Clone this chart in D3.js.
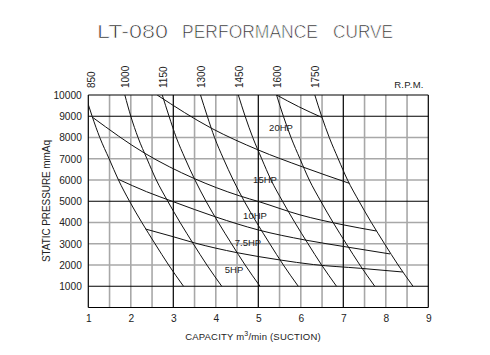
<!DOCTYPE html>
<html><head><meta charset="utf-8">
<script src="https://cdn.jsdelivr.net/npm/d3@7"></script>
<style>
body{margin:0;background:#fff;}
svg{display:block;}
text{font-family:"Liberation Sans",Arial,sans-serif;}
</style></head>
<body><svg id="c" width="490" height="355"></svg>
<script>
// ---- data ----
const titleWords = ["LT-080","PERFORMANCE","CURVE"];
const xTicks = [1,2,3,4,5,6,7,8,9];
const yTicks = [1000,2000,3000,4000,5000,6000,7000,8000,9000,10000];
const pLevels = [10000,9000,8000,7000,6000,5000,4000,3000,2000,1000];
const rpmNames = ["850","1000","1150","1300","1450","1600","1750"];
// capacity (m3/min) of each rpm line at the pressure levels above
const rpm850  = [0.93,1.09,1.27,1.49,1.71,1.97,2.26,2.57,2.89,3.24];
const rpm1000 = [1.86,2.00,2.17,2.38,2.60,2.87,3.16,3.47,3.79,4.14];
const rpm1150 = [2.74,2.90,3.07,3.28,3.51,3.77,4.06,4.37,4.69,5.04];
const rpm1300 = [3.64,3.80,3.97,4.18,4.41,4.67,4.96,5.27,5.59,5.94];
const rpm1450 = [4.53,4.69,4.87,5.08,5.30,5.57,5.86,6.17,6.49,6.84];
const rpm1600 = [5.43,5.59,5.77,5.98,6.20,6.47,6.76,7.07,7.39,7.74];
const rpm1750 = [6.33,6.49,6.67,6.88,7.10,7.37,7.66,7.97,8.29,8.64];
const rpmSeries = [rpm850,rpm1000,rpm1150,rpm1300,rpm1450,rpm1600,rpm1750];
// horsepower curves: [capacity, pressure]
const hpNames = ["20HP","15HP","10HP","7.5HP","5HP"];
const hp20  = [[5.43,10000],[5.95,9450],[6.49,8950]];
const hp15  = [[2.62,10000],[3.90,8433],[5.00,7412],[6.05,6610],[7.14,5845]];
const hp10  = [[1.10,8950],[2.33,7256],[3.48,6080],[4.55,5260],[5.04,4965],[5.98,4360],[7.00,3890],[7.78,3600]];
const hp75  = [[1.71,6030],[2.37,5450],[3.00,4979],[4.00,4260],[5.00,3650],[6.10,3176],[7.04,2861],[8.10,2520]];
const hp5   = [[2.35,3690],[3.00,3330],[3.50,3040],[4.50,2580],[5.50,2240],[6.30,2020],[7.40,1845],[8.40,1670]];
const hpSeries = [hp20,hp15,hp10,hp75,hp5];
const hpLabelPos = [[281,131],[265,183],[255,219],[248,246],[234,273]];

// ---- chart ----
const svg = d3.select("#c");
const x = d3.scaleLinear().domain([1,9]).range([88.3,428.3]);
const y = d3.scaleLinear().domain([0,10000]).range([307.5,95]);

// grid
const gx = d3.range(1,9.01,0.5), gy = d3.range(0,10001,1000);
const isMajorX = v => Math.abs(v%2-1)<1e-6;
const isMajorY = v => v===0||v===10000||v===1000||v===5000||v===9000;
const grid = svg.append("g");
grid.selectAll("line.vg").data(gx.filter(v=>!isMajorX(v))).join("line")
  .attr("x1",d=>x(d)).attr("x2",d=>x(d)).attr("y1",y(0)).attr("y2",y(10000))
  .attr("stroke","#a8a8a8").attr("stroke-width",1.6);
grid.selectAll("line.hg").data(gy.filter(v=>!isMajorY(v))).join("line")
  .attr("y1",d=>y(d)).attr("y2",d=>y(d)).attr("x1",x(1)).attr("x2",x(9))
  .attr("stroke","#a8a8a8").attr("stroke-width",1.6);
grid.selectAll("line.vm").data(gx.filter(isMajorX)).join("line")
  .attr("x1",d=>x(d)).attr("x2",d=>x(d)).attr("y1",y(0)).attr("y2",y(10000))
  .attr("stroke","#000").attr("stroke-width",1.2);
grid.selectAll("line.hm").data(gy.filter(isMajorY)).join("line")
  .attr("y1",d=>y(d)).attr("y2",d=>y(d)).attr("x1",x(1)).attr("x2",x(9))
  .attr("stroke","#000").attr("stroke-width",1.2);

// clip
svg.append("clipPath").attr("id","plot").append("rect")
  .attr("x",x(1)).attr("y",y(10000)).attr("width",x(9)-x(1)).attr("height",y(0)-y(10000));

const line = d3.line().x(d=>x(d[0])).y(d=>y(d[1])).curve(d3.curveMonotoneX);
const curves = svg.append("g").attr("clip-path","url(#plot)");
rpmSeries.forEach(s=>{
  curves.append("path").attr("d",line(s.map((v,i)=>[v,pLevels[i]])))
    .attr("fill","none").attr("stroke","#111").attr("stroke-width",1);
});
hpSeries.forEach(s=>{
  curves.append("path").attr("d",line(s))
    .attr("fill","none").attr("stroke","#111").attr("stroke-width",1);
});

// hp labels
svg.selectAll("text.hp").data(hpNames).join("text")
  .attr("x",(d,i)=>hpLabelPos[i][0]).attr("y",(d,i)=>hpLabelPos[i][1])
  .attr("text-anchor","middle").attr("font-size",9.5).attr("fill","#222").text(d=>d);

// rpm labels at top of each rpm line
svg.selectAll("text.rpm").data(rpmNames).join("text")
  .attr("transform",(d,i)=>`translate(${x(Math.max(1.05,rpmSeries[i][0]))+1},88) rotate(-90)`)
  .attr("dy","0.35em").attr("font-size",10).attr("fill","#222").text(d=>d);
svg.append("text").attr("x",409).attr("y",88).attr("text-anchor","middle")
  .attr("font-size",9.5).attr("fill","#222").attr("letter-spacing",0.3).text("R.P.M.");

// axes
const ax = svg.append("g").attr("transform",`translate(0,${y(0)})`)
  .call(d3.axisBottom(x).tickValues(xTicks).tickSize(0).tickPadding(7.5).tickFormat(d3.format("d")));
const ay = svg.append("g").attr("transform",`translate(${x(1)},0)`)
  .call(d3.axisLeft(y).tickValues(yTicks).tickSize(0).tickPadding(6.5).tickFormat(d3.format("d")));
[ax,ay].forEach(a=>{a.select(".domain").remove();
  a.selectAll("text").attr("font-size",10.2).attr("fill","#222").attr("font-family","Liberation Sans, Arial, sans-serif");});

// title: three words with wide gaps, thin strokes
const titleBoxes = [[97,71],[182,136],[333,60]];
svg.selectAll("text.title").data(titleWords).join("text")
  .attr("x",(d,i)=>titleBoxes[i][0]).attr("y",38)
  .attr("font-size",19).attr("fill","#222").attr("stroke","#fff").attr("stroke-width",0.7)
  .attr("font-family","DejaVu Sans, sans-serif")
  .attr("textLength",(d,i)=>titleBoxes[i][1]).attr("lengthAdjust","spacingAndGlyphs").text(d=>d);
const xt = svg.append("text").attr("x",253).attr("y",340).attr("text-anchor","middle")
  .attr("font-size",9.5).attr("fill","#222").attr("letter-spacing",0.2);
xt.append("tspan").text("CAPACITY  m");
xt.append("tspan").attr("font-size",7).attr("dy",-4).text("3");
xt.append("tspan").attr("dy",4).text("/min  (SUCTION)");
svg.append("text").attr("transform","translate(50,201) rotate(-90)").attr("text-anchor","middle")
  .attr("font-size",10).attr("fill","#222").attr("textLength",122).attr("lengthAdjust","spacing")
  .text("STATIC  PRESSURE  mmAq");
</script></body></html>
